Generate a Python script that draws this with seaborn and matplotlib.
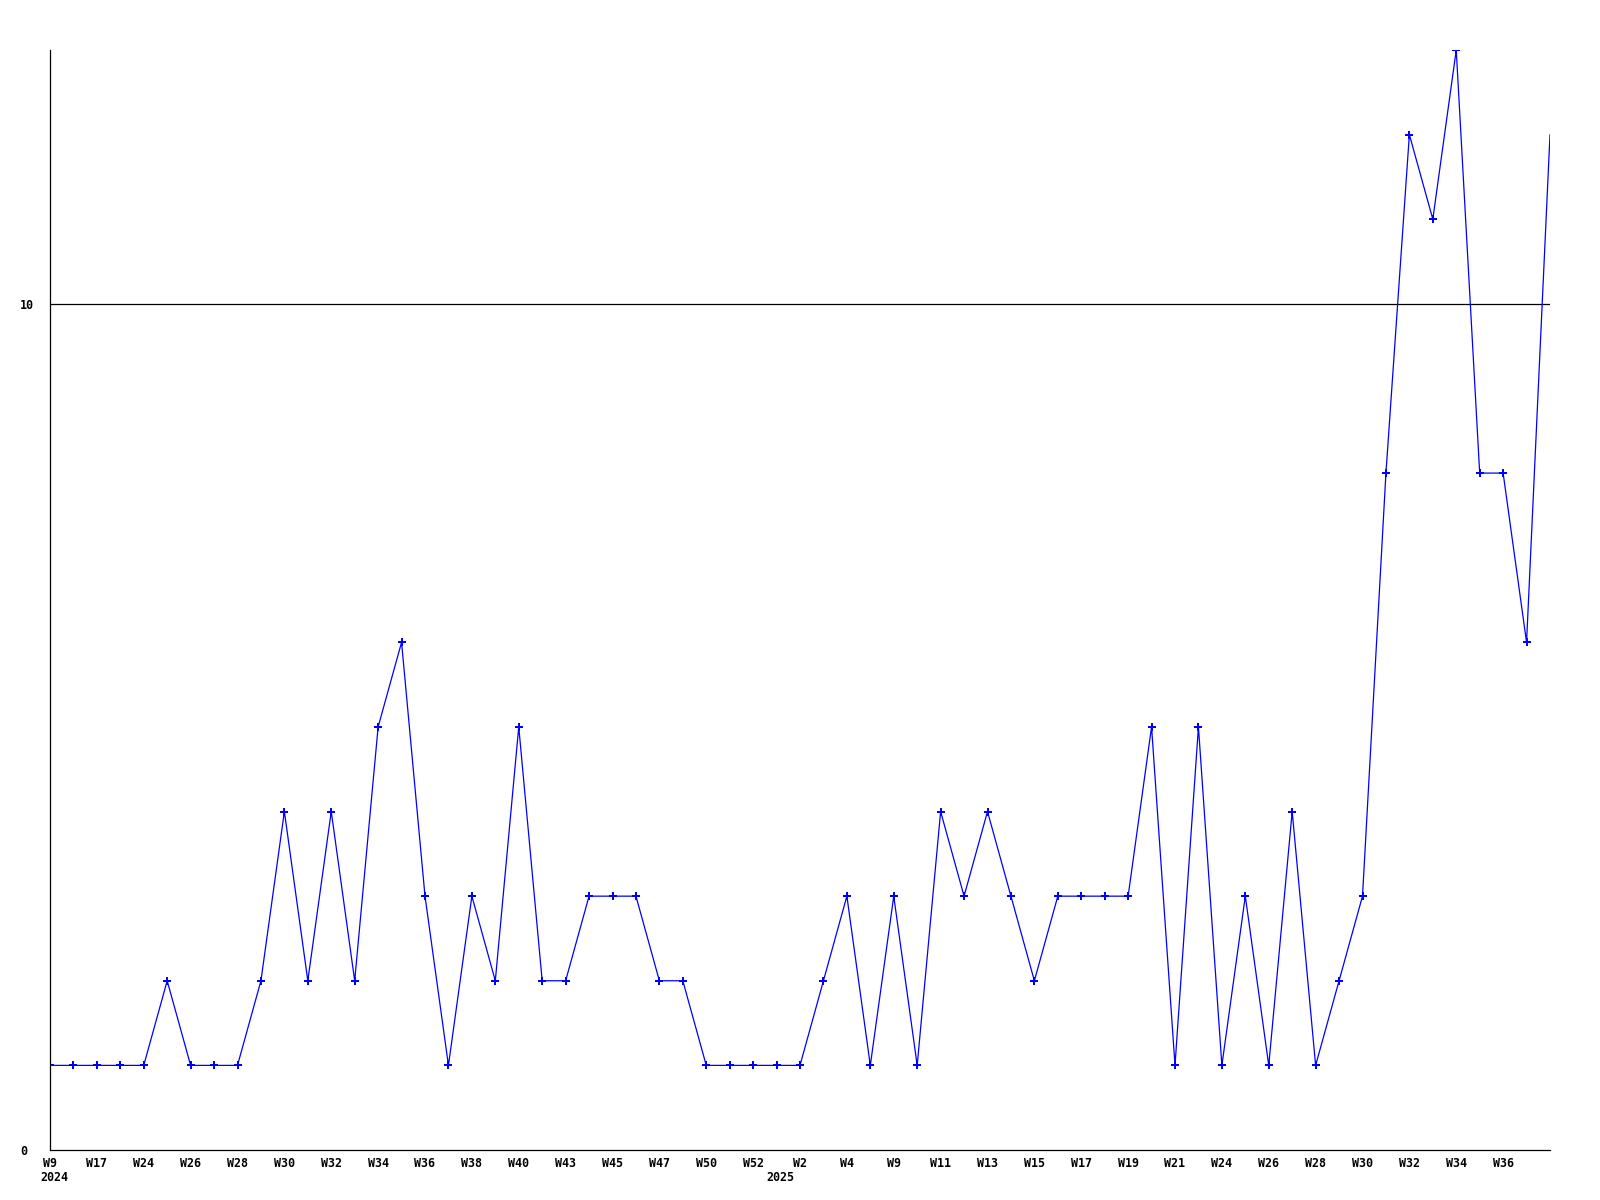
import numpy as np
import matplotlib
matplotlib.use("Agg")
import matplotlib.pyplot as plt
import seaborn as sns

# weekly counts, W9 2024 .. W37 2025 (every other week labelled)
counts = [1, 1, 1, 1, 1, 2, 1, 1, 1, 2,
          4, 2, 4, 2, 5, 6, 3, 1, 3, 2,
          5, 2, 2, 3, 3, 3, 2, 2, 1, 1,
          1, 1, 1, 2, 3, 1, 3, 1, 4, 3,
          4, 3, 2, 3, 3, 3, 3, 5, 1, 5,
          1, 3, 1, 4, 1, 2, 3, 8, 12, 11,
          13, 8, 8, 6, 12]
week_labels = ["W9", "W17", "W24", "W26", "W28", "W30", "W32", "W34", "W36",
               "W38", "W40", "W43", "W45", "W47", "W50", "W52", "W2", "W4",
               "W9", "W11", "W13", "W15", "W17", "W19", "W21", "W24", "W26",
               "W28", "W30", "W32", "W34", "W36"]
years = ["2024", "2025"]
year_pos = [0, 31]

sns.set_style("white")
plt.rcParams['font.family'] = ['DejaVu Sans Mono']
plt.rcParams['font.weight'] = 'bold'
plt.rcParams['text.color'] = 'black'
plt.rcParams['xtick.color'] = 'black'
plt.rcParams['ytick.color'] = 'black'

fig = plt.figure(figsize=(16, 12), dpi=100)
ax = fig.add_axes([50 / 1600, 50 / 1200, 1500 / 1600, 1100 / 1200])

idx = np.arange(len(counts))
sns.lineplot(x=idx, y=counts, ax=ax, color="#0000ff", linewidth=0.9,
             marker="P", markersize=5.5, markeredgewidth=0,
             markevery=list(range(len(counts) - 1)))

ax.axhline(10, color="black", linewidth=0.9, zorder=1)

ax.set_xlim(0, len(counts) - 1)
ax.set_ylim(0, 13)

ax.set_xticks(idx[:2 * len(week_labels):2])
ax.set_xticklabels(week_labels, fontsize=8.4, fontweight="bold")
ax.set_yticks([0, 10])
ax.set_yticklabels(["0", "10"], fontsize=8.4, fontweight="bold", ha="left")
ax.tick_params(axis="x", length=0, pad=5)
ax.tick_params(axis="y", length=0, pad=21.6)

for sp in ["top", "right"]:
    ax.spines[sp].set_visible(False)
for sp in ["left", "bottom"]:
    ax.spines[sp].set_color("black")
    ax.spines[sp].set_linewidth(0.9)

for yr, pos in zip(years, year_pos):
    ax.annotate(yr, xy=(pos, 0), xycoords=("data", "axes fraction"),
                xytext=(3, -19.5), textcoords="offset points",
                ha="center", va="center", fontsize=8.4, fontweight="bold",
                color="black")

fig.savefig("out.png", dpi=100)
